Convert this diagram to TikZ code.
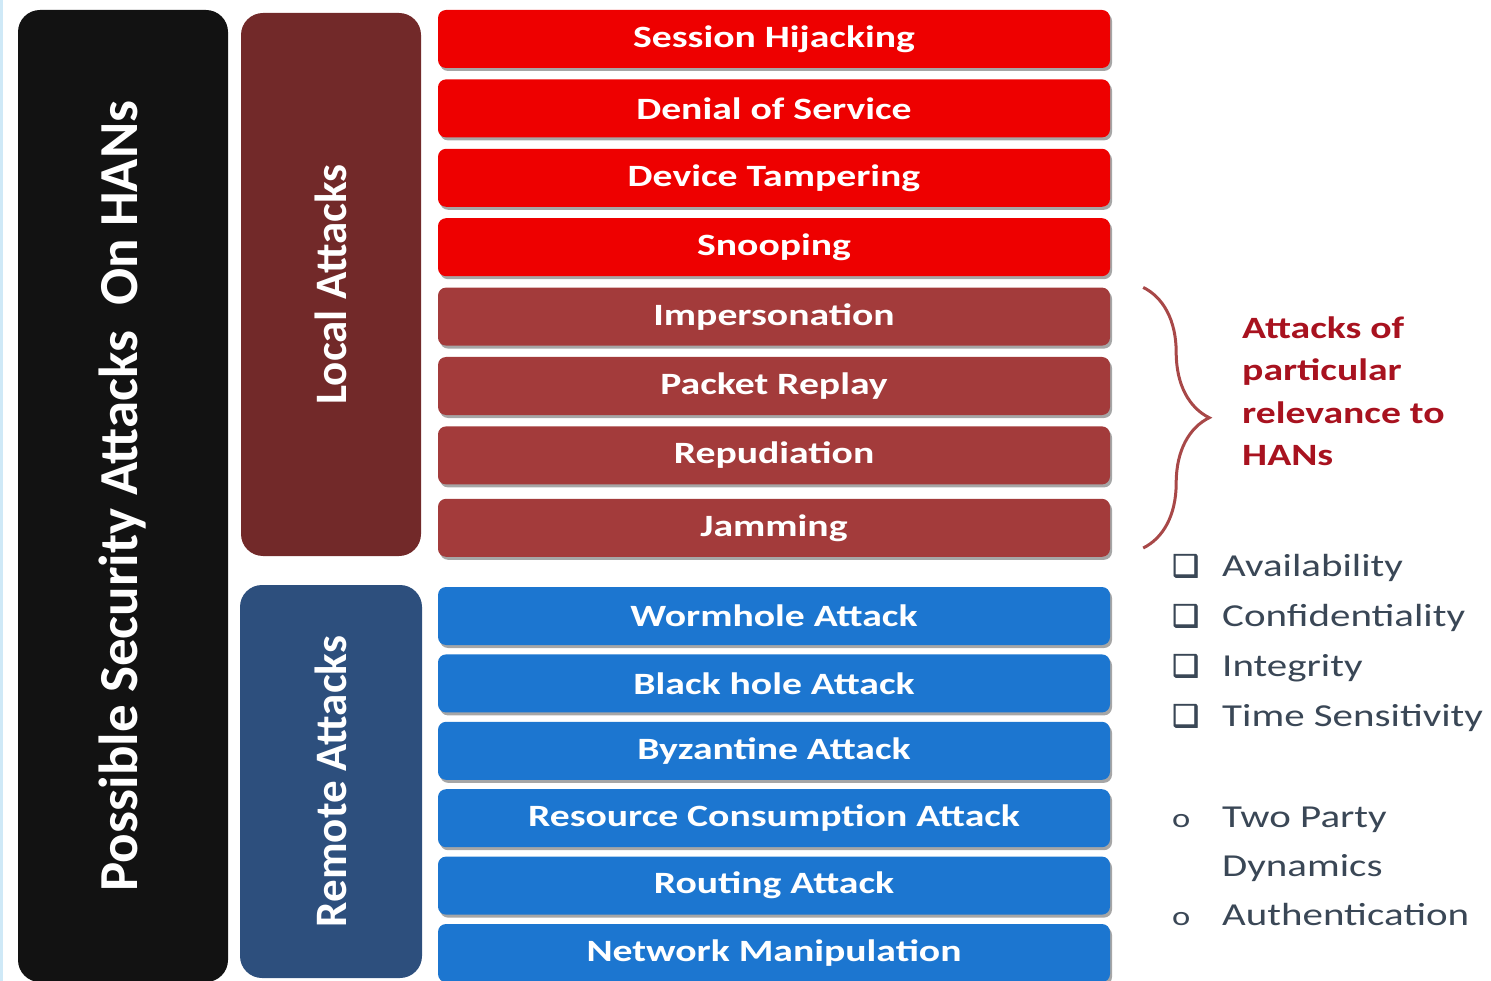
\documentclass[tikz,border=0pt]{standalone}
\usepackage{fontspec}
\setmainfont{Carlito}
\newfontfamily\widefont[FakeStretch=1.28]{Carlito}
\newfontfamily\boxglyphfont[FakeBold=2.5]{DejaVu Sans}
\usepackage{xcolor}
\usepackage{tikz}
\usetikzlibrary{positioning,shadows,decorations.pathreplacing}

\definecolor{hanblack}{HTML}{121212}
\definecolor{localbox}{HTML}{722929}
\definecolor{remotebox}{HTML}{2D4F7D}
\definecolor{hotred}{HTML}{EE0000}
\definecolor{maroonbar}{HTML}{A33B3B}
\definecolor{bluebar}{HTML}{1C76D0}
\definecolor{notered}{HTML}{A8121F}
\definecolor{bracecol}{HTML}{A84848}
\definecolor{listgrey}{HTML}{3A4756}
\definecolor{edgeblue}{HTML}{CFE9F7}

\begin{document}
\begin{tikzpicture}[
  x=1pt, y=-1pt,
  node distance=11pt,
  bigbox/.style={rotate=90, rounded corners=22pt, text=white, inner sep=0pt,
                 font=\bfseries\fontsize{45}{50}\selectfont},
  bar/.style={rounded corners=8pt, minimum width=672pt, minimum height=58pt,
              inner sep=0pt, text=white,
              font=\widefont\bfseries\fontsize{31}{37}\selectfont,
              drop shadow={shadow xshift=2pt, shadow yshift=-3pt, opacity=0.35, fill=black}},
  redbar/.style={bar, fill=hotred},
  maroon/.style={bar, fill=maroonbar},
  bluebox/.style={bar, fill=bluebar},
  note/.style={align=left, inner sep=0pt, text=notered,
               font=\widefont\bfseries\fontsize{31}{42.5}\selectfont},
  item/.style={anchor=base west, inner sep=0pt, text=listgrey,
               font=\widefont\fontsize{32}{50}\selectfont},
  hanbrace/.style={decorate, decoration={brace, amplitude=66pt}, draw=bracecol,
                   line width=3pt}
]
\useasboundingbox (0,0) rectangle (1491,981);
\fill[edgeblue] (0,0) rectangle (3,981);

% left column
\node[bigbox, fill=hanblack, minimum width=972pt, minimum height=210pt,
      font=\bfseries\fontsize{55}{60}\selectfont] (han) at (123,496)
      {Possible Security Attacks\ \ On HANs};
\node[bigbox, fill=localbox, minimum width=543pt, minimum height=180pt] (local) at (331,284.5) {Local Attacks};
\node[bigbox, fill=remotebox, minimum width=393pt, minimum height=182pt] (remote) at (331,781.5) {Remote Attacks};

% local attacks
\node[redbar] (sess) at (774,39) {Session Hijacking};
\node[redbar, below=of sess] (dos) {Denial of Service};
\node[redbar, below=of dos] (tamper) {Device Tampering};
\node[redbar, below=of tamper] (snoop) {Snooping};
\node[maroon, below=of snoop] (imp) {Impersonation};
\node[maroon, below=of imp] (replay) {Packet Replay};
\node[maroon, below=of replay] (repud) {Repudiation};
\node[maroon, below=14pt of repud] (jam) {Jamming};

% remote attacks
\node[bluebox] (worm) at (774,616) {Wormhole Attack};
\node[bluebox, below=9pt of worm] (black) {Black hole Attack};
\node[bluebox, below=9pt of black] (byz) {Byzantine Attack};
\node[bluebox, below=9pt of byz] (res) {Resource Consumption Attack};
\node[bluebox, below=9pt of res] (rout) {Routing Attack};
\node[bluebox, below=9pt of rout] (netman) {Network Manipulation};

% relevance note
\draw[hanbrace] ([xshift=33pt]imp.north east) -- ([xshift=33pt, yshift=9pt]jam.south east);
\node[note, anchor=west] (note) at (1242,391) {Attacks of\\particular\\relevance to\\HANs};

% requirements
\node[item] (avail) at (1172,576) {\makebox[50pt][l]{\boxglyphfont\fontsize{30}{30}\selectfont ❑}Availability};
\node[item] (conf) at (1172,626) {\makebox[50pt][l]{\boxglyphfont\fontsize{30}{30}\selectfont ❑}Confidentiality};
\node[item] (integ) at (1172,676) {\makebox[50pt][l]{\boxglyphfont\fontsize{30}{30}\selectfont ❑}Integrity};
\node[item] (time) at (1172,726) {\makebox[50pt][l]{\boxglyphfont\fontsize{30}{30}\selectfont ❑}Time Sensitivity};
\node[item] (twop) at (1172,827) {\makebox[50pt][l]{\fontsize{27}{27}\selectfont o}Two Party};
\node[item] (dyn) at (1222,876) {Dynamics};
\node[item] (auth) at (1172,925) {\makebox[50pt][l]{\fontsize{27}{27}\selectfont o}Authentication};
\end{tikzpicture}
\end{document}
